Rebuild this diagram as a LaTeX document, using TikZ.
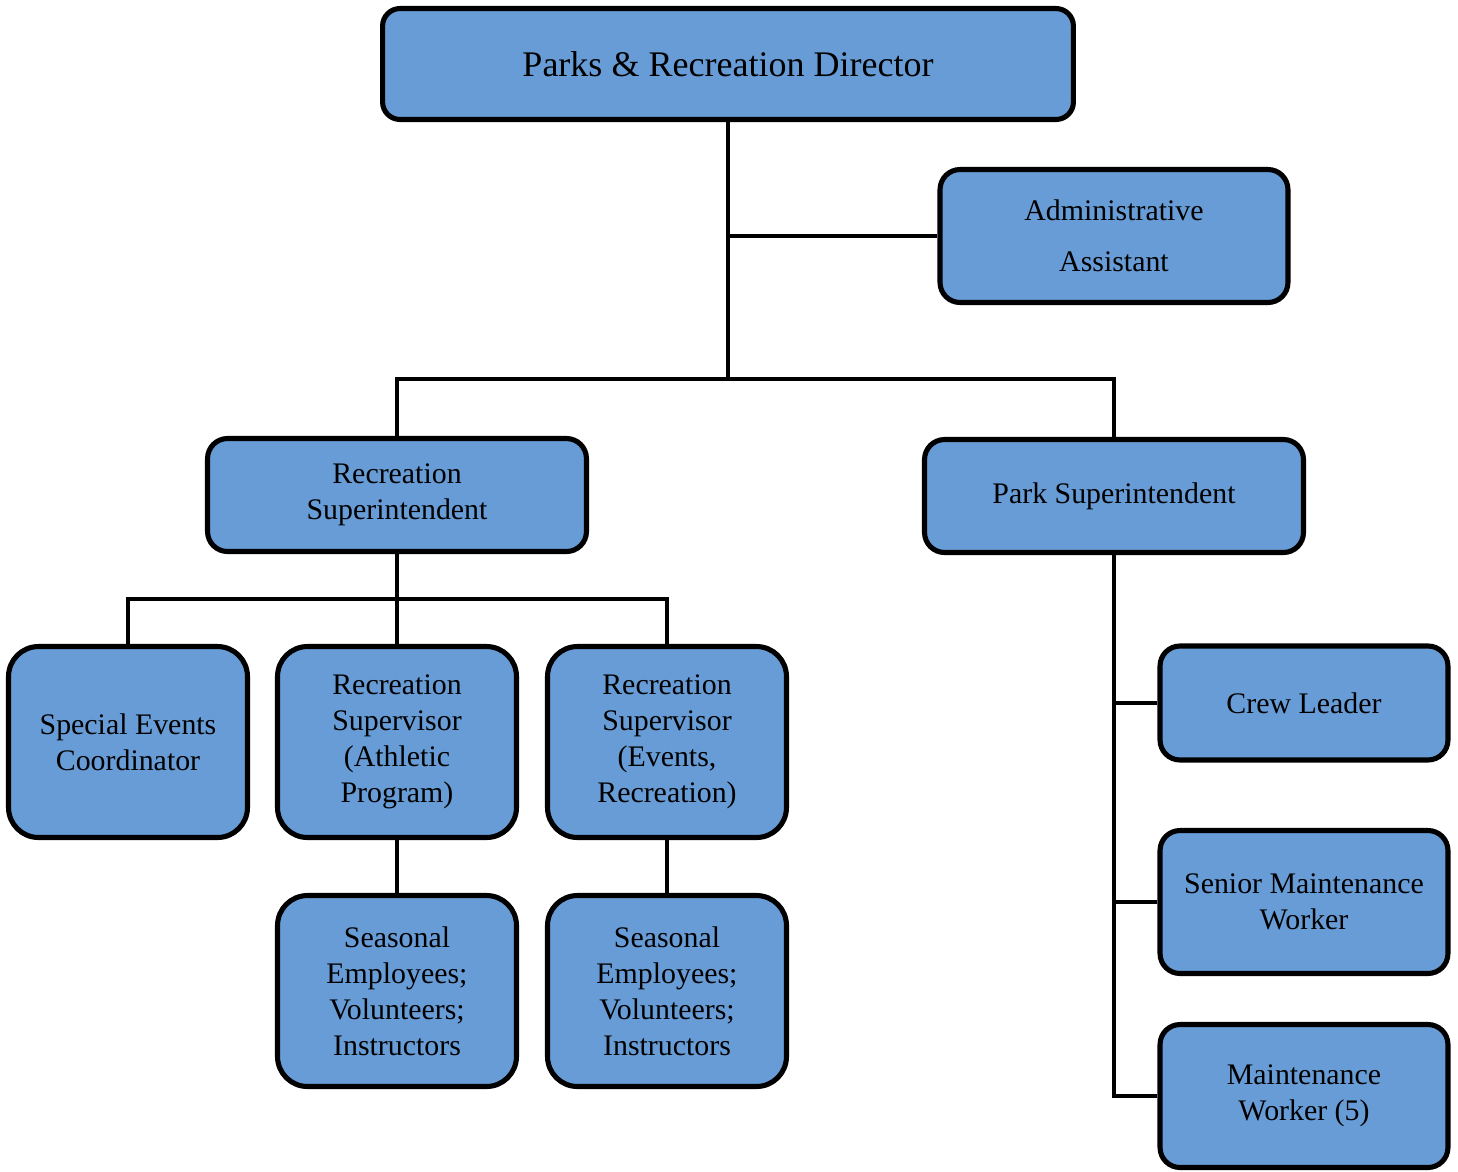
\documentclass[tikz,border=0pt]{standalone}
\usepackage{fontspec}
\setmainfont{Liberation Serif}
\usepackage{tikz}
\usetikzlibrary{positioning,calc,backgrounds}
\definecolor{boxBlue}{HTML}{679CD6}

\begin{document}
\begin{tikzpicture}[x=0.02cm, y=-0.02cm,
  post/.style={draw=black, fill=boxBlue, rounded corners=0.4cm, line width=2.9pt,
    align=center, inner sep=2pt, font=\fontsize{17}{20.5}\selectfont},
  wide/.style={post, minimum width=7.58cm, minimum height=2.26cm},
  small/.style={post, minimum width=4.78cm, minimum height=3.82cm, rounded corners=0.6cm},
  side/.style={post, minimum width=5.76cm},
  link/.style={draw=black, line width=2.4pt},
]
  \useasboundingbox (0,0) rectangle (1458,1171);

  \node[post, minimum width=13.82cm, minimum height=2.22cm, rounded corners=0.35cm,
    font=\fontsize{20.5}{24}\selectfont] (dir) at (728,64) {Parks \& Recreation Director};
  \node[post, minimum width=6.96cm, minimum height=2.66cm] (admin) at (1114,236)
    {Administrative\\[0.3cm]Assistant};

  \node[wide] (recsup) at (397,495) {Recreation\\Superintendent};
  \node[wide] (parksup) at (1114,496) {Park Superintendent};

  \node[small] (events) at (128,742) {Special Events\\Coordinator};
  \node[small] (athletic) at (397,742) {Recreation\\Supervisor\\(Athletic\\Program)};
  \node[small] (recreation) at (667,742) {Recreation\\Supervisor\\(Events,\\Recreation)};
  \node[small] (season1) at (397,991) {Seasonal\\Employees;\\Volunteers;\\Instructors};
  \node[small] (season2) at (667,991) {Seasonal\\Employees;\\Volunteers;\\Instructors};

  \node[side, minimum height=2.28cm] (crew) at (1304,703) {Crew Leader};
  \node[side, minimum height=2.86cm] (senior) at (1304,902) {Senior Maintenance\\Worker};
  \node[side, minimum height=2.86cm] (maint) at (1304,1096) {Maintenance\\Worker (5)};

  % reporting lines, kept behind the boxes
  \coordinate (top) at (dir.south |- 0,379);
  \coordinate (mid) at (recsup.south |- 0,599);
  \begin{scope}[on background layer]
    \draw[link] (dir.south) -- (top);
    \draw[link] (admin.west) -- (admin.west -| dir.south);
    \draw[link] (recsup.north) |- (top) -| (parksup.north);
    \draw[link] (recsup.south) -- (athletic.north);
    \draw[link] (events.north) |- (mid) -| (recreation.north);
    \draw[link] (athletic.south) -- (season1.north);
    \draw[link] (recreation.south) -- (season2.north);
    \draw[link] (parksup.south) |- (maint.west);
    \draw[link] (crew.west) -- (crew.west -| parksup.south);
    \draw[link] (senior.west) -- (senior.west -| parksup.south);
  \end{scope}
\end{tikzpicture}
\end{document}
